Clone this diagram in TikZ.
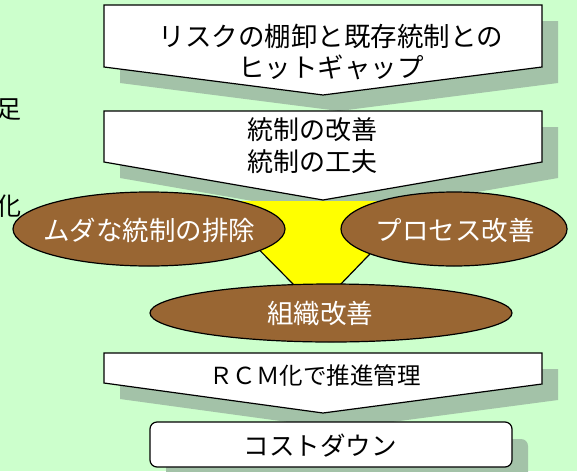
\documentclass[tikz,border=0pt]{standalone}
\usepackage{fontspec}
\newfontfamily\jp{Noto Sans CJK JP}
\definecolor{bgg}{HTML}{CCFFCC}
\definecolor{shd}{HTML}{A3C2A8}
\definecolor{brn}{HTML}{996633}
\definecolor{ylw}{HTML}{FFFF00}
\tikzset{
  flowbox/.style={draw=black, line width=1.2pt, fill=white, line join=miter},
  shadowbox/.style={fill=shd, draw=none},
  oval/.style={draw=black, line width=1.2pt, fill=brn},
  blacktxt/.style={font=\jp\fontsize{25}{31}\selectfont, text=black, align=center, inner sep=0pt},
  whitetxt/.style={font=\jp\fontsize{26.5}{30}\selectfont, text=white, align=center, inner sep=0pt},
}
\begin{document}
\begin{tikzpicture}[x=1pt,y=-1pt]
\fill[bgg] (0,0) rectangle (577,471);
\useasboundingbox (0,0) rectangle (577,471);

% clipped side texts
\node[blacktxt, anchor=east] (sideA) at (22,110) {足};
\node[blacktxt, anchor=east] (sideB) at (22,206) {化};

% shape 1
\fill[shadowbox] (120,21) -- (558,21) -- (558,83) -- (339,111) -- (120,83) -- cycle;
\draw[flowbox] (104,5) -- (542,5) -- (542,67) -- (323,95) -- (104,67) -- cycle;
\node[blacktxt, font=\jp\fontsize{26.5}{30.5}\selectfont] (gap) at (331,52) {リスクの棚卸と既存統制との\\ヒットギャップ};

% shape 2
\fill[shadowbox] (120,127) -- (558,127) -- (558,178) -- (339,216) -- (120,178) -- cycle;
\draw[flowbox] (104,111) -- (542,111) -- (542,162) -- (323,200) -- (104,162) -- cycle;
\node[blacktxt, font=\jp\fontsize{26}{32}\selectfont] (kaizen) at (312,146) {統制の改善\\統制の工夫};

% yellow funnel
\fill[ylw] (211,201) -- (421,201) -- (339,286) -- (295,286) -- cycle;
\draw[line width=1.2pt] (211,201) -- (295,286);
\draw[line width=1.2pt] (421,201) -- (339,286);

% ellipses
\draw[oval] (149,229) ellipse [x radius=136, y radius=37];
\node[whitetxt] (muda) at (149,230) {ムダな統制の排除};
\draw[oval] (454,229) ellipse [x radius=113, y radius=37];
\node[whitetxt] (process) at (455,230) {プロセス改善};
\draw[oval] (331,313) ellipse [x radius=181, y radius=29];
\node[whitetxt] (soshiki) at (320,313) {組織改善};

% shape 3
\fill[shadowbox] (120,369) -- (558,369) -- (558,400) -- (339,429) -- (120,399) -- cycle;
\draw[flowbox] (104,353) -- (542,353) -- (542,384) -- (323,413) -- (104,383) -- cycle;
\node[blacktxt, font=\jp\fontsize{23.5}{30}\selectfont] (rcm) at (315,376) {ＲＣＭ化で推進管理};

% shape 4
\fill[shadowbox, rounded corners=7pt] (166,439) rectangle (528,484);
\draw[flowbox, rounded corners=7pt] (150,422) rectangle (512,467);
\node[blacktxt, font=\jp\fontsize{25.5}{30}\selectfont] (cost) at (320,446) {コストダウン};
\end{tikzpicture}
\end{document}
